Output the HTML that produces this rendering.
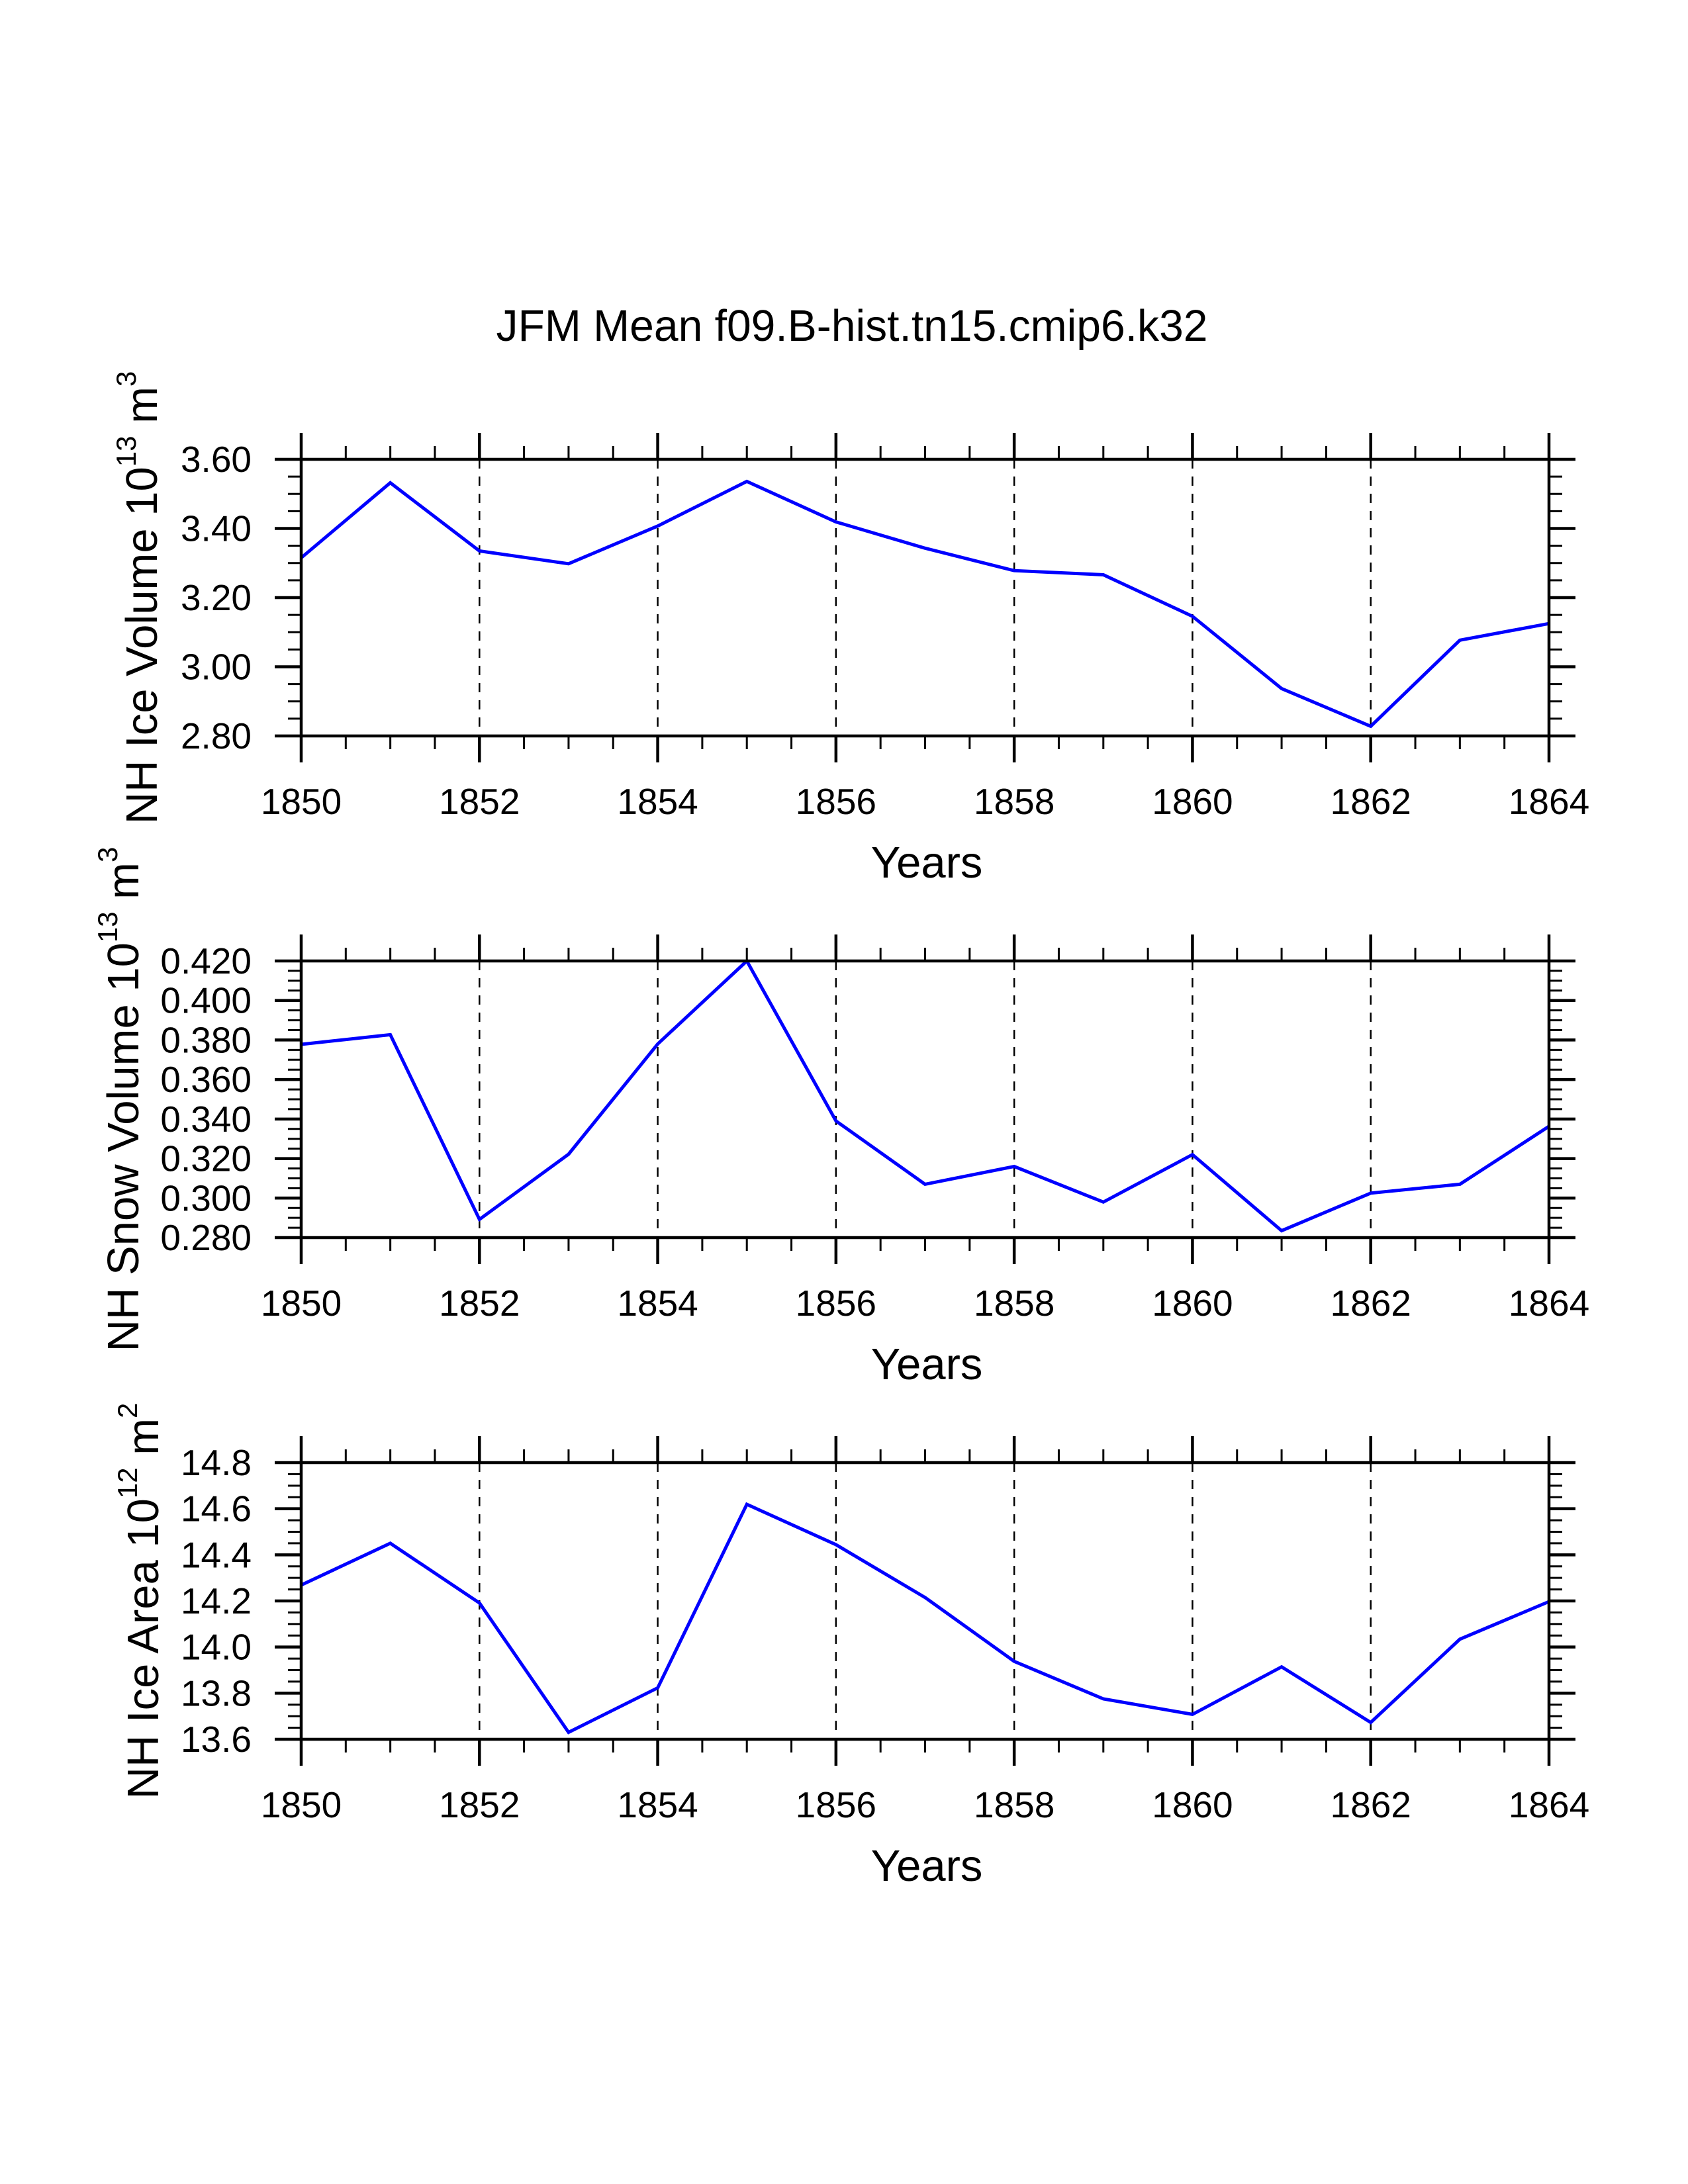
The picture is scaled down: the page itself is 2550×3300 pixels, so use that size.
<!DOCTYPE html>
<html><head><meta charset="utf-8"><style>
html,body{margin:0;padding:0;background:#fff;}
svg{display:block;font-family:"Liberation Sans",Arial,sans-serif;}
</style></head><body>
<svg id="chart" width="2550" height="3300" viewBox="0 0 2550 3300" xmlns="http://www.w3.org/2000/svg">
<rect width="2550" height="3300" fill="#fff"/>
<text x="1287" y="515" font-size="67" text-anchor="middle" textLength="1075" lengthAdjust="spacingAndGlyphs">JFM Mean f09.B-hist.tn15.cmip6.k32</text>
</svg>
<script>
const years = [1850,1851,1852,1853,1854,1855,1856,1857,1858,1859,1860,1861,1862,1863,1864];
const xTickLabels = ["1850","1852","1854","1856","1858","1860","1862","1864"];
const iceVolume = [3.315,3.532,3.335,3.298,3.407,3.536,3.419,3.343,3.278,3.266,3.146,2.937,2.828,3.077,3.125];
const snowVolume = [0.3778,0.3827,0.2892,0.3222,0.378,0.420,0.339,0.307,0.316,0.298,0.322,0.2835,0.3025,0.307,0.3363];
const iceArea = [14.269,14.450,14.191,13.63,13.823,14.619,14.444,14.215,13.938,13.775,13.708,13.914,13.673,14.034,14.197];
const iceVolumeTicks = ["2.80","3.00","3.20","3.40","3.60"];
const snowVolumeTicks = ["0.280","0.300","0.320","0.340","0.360","0.380","0.400","0.420"];
const iceAreaTicks = ["13.6","13.8","14.0","14.2","14.4","14.6","14.8"];

const NS = "http://www.w3.org/2000/svg";
const svg = document.getElementById("chart");
const L = 455, R = 2340, H = 418;
function mk(tag, attrs, parent) {
  const e = document.createElementNS(NS, tag);
  for (const k in attrs) e.setAttribute(k, attrs[k]);
  (parent || svg).appendChild(e);
  return e;
}
function panel(key, top, values, ticks, minorStep, labelMain, sup, unitSup, labelX) {
  const g = mk("g", {});
  
  
  const bottom = top + H;
  const ymin = parseFloat(ticks[0]), ymax = parseFloat(ticks[ticks.length - 1]);
  const xs = v => L + (v - years[0]) / (years[years.length - 1] - years[0]) * (R - L);
  const ys = v => bottom - (v - ymin) / (ymax - ymin) * H;
  xTickLabels.forEach((t, i) => {
    const yr = parseFloat(t);
    if (i > 0 && i < xTickLabels.length - 1) {
      const gl = mk("line", {x1: xs(yr), x2: xs(yr), y1: top, y2: bottom, stroke: "#000", "stroke-width": 2.5, "stroke-dasharray": "14,12"}, g);
      
      
    }
  });
  const pts = values.map((v, i) => xs(years[i]).toFixed(1) + "," + ys(v).toFixed(1)).join(" ");
  const pl = mk("polyline", {points: pts, fill: "none", stroke: "#0000ff", "stroke-width": 5, "stroke-linejoin": "miter"}, g);
  
  
  const fr = mk("rect", {x: L, y: top, width: R - L, height: H, fill: "none", stroke: "#000", "stroke-width": 4.5}, g);
  
  
  for (let yr = years[0]; yr <= years[years.length - 1] + 1e-6; yr += 0.5) {
    const major = Math.abs((yr - years[0]) % 2) < 1e-6;
    const len = major ? 40 : 20, x = xs(yr);
    mk("line", {x1: x, x2: x, y1: top, y2: top - len, stroke: "#000", "stroke-width": major ? 4.5 : 3}, g);
    mk("line", {x1: x, x2: x, y1: bottom, y2: bottom + len, stroke: "#000", "stroke-width": major ? 4.5 : 3}, g);
  }
  xTickLabels.forEach(t => {
    const tx = mk("text", {x: xs(parseFloat(t)), y: bottom + 118, "font-size": 55, "text-anchor": "middle"}, g);
    tx.textContent = t;
    
    
  });
  const nMinor = Math.round((ymax - ymin) / minorStep);
  for (let k = 0; k <= nMinor; k++) {
    const v = ymin + k * minorStep, y = ys(v);
    const major = k % 4 === 0, len = major ? 40 : 20;
    mk("line", {x1: L, x2: L - len, y1: y, y2: y, stroke: "#000", "stroke-width": major ? 4.5 : 3}, g);
    mk("line", {x1: R, x2: R + len, y1: y, y2: y, stroke: "#000", "stroke-width": major ? 4.5 : 3}, g);
  }
  ticks.forEach(t => {
    const tx = mk("text", {x: 380, y: ys(parseFloat(t)) + 19, "font-size": 55, "text-anchor": "end"}, g);
    tx.textContent = t;
    
    
  });
  const xt = mk("text", {x: 1400, y: bottom + 214, "font-size": 67, "text-anchor": "middle"}, g);
  xt.textContent = "Years";
  
  
  const cy = top + H / 2;
  const yt = mk("text", {x: labelX, y: cy, "font-size": 67, "text-anchor": "middle", transform: `rotate(-90 ${labelX} ${cy})`, dy: 23}, g);
  
  
  const t1 = mk("tspan", {}, yt); t1.textContent = labelMain + " 10";
  const t2 = mk("tspan", {"font-size": 42, dy: -32}, yt); t2.textContent = sup;
  const t3 = mk("tspan", {dy: 32}, yt); t3.textContent = " m";
  const t4 = mk("tspan", {"font-size": 42, dy: -32}, yt); t4.textContent = unitSup;
}
panel("ice-volume", 694, iceVolume, iceVolumeTicks, 0.05, "NH Ice Volume", "13", "3", 214);
panel("snow-volume", 1452, snowVolume, snowVolumeTicks, 0.005, "NH Snow Volume", "13", "3", 186);
panel("ice-area", 2210, iceArea, iceAreaTicks, 0.05, "NH Ice Area", "12", "2", 216);
</script>
</body></html>
